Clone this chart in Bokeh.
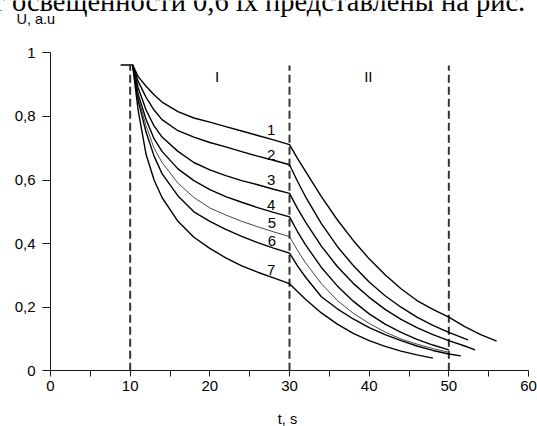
from bokeh.plotting import figure
from bokeh.models import FixedTicker, CustomJSTickFormatter, Range1d
from bokeh.core.properties import value
from bokeh.embed import file_html
from bokeh.resources import INLINE

# ---- data ----
t_start = [8.8, 10.3]
u_start = [0.962, 0.962]

t_c1 = [10.3, 11, 12, 13, 14, 16, 18, 20, 22, 24, 26, 28, 30, 31, 32, 34, 36, 38, 40, 42, 44, 46, 48, 50, 52, 54, 56]
u_c1 = [0.962, 0.925, 0.895, 0.868, 0.845, 0.815, 0.795, 0.782, 0.768, 0.754, 0.740, 0.726, 0.711,
        0.668, 0.628, 0.548, 0.475, 0.410, 0.352, 0.302, 0.258, 0.221, 0.193, 0.169, 0.139, 0.114, 0.093]

t_c2 = [10.3, 11, 12, 13, 14, 16, 18, 20, 22, 24, 26, 28, 30, 31, 32, 34, 36, 38, 40, 42, 44, 46, 48, 50, 52.4]
u_c2 = [0.962, 0.91, 0.86, 0.82, 0.79, 0.755, 0.735, 0.718, 0.704, 0.689, 0.675, 0.662, 0.648,
        0.596, 0.548, 0.463, 0.391, 0.331, 0.279, 0.236, 0.200, 0.169, 0.143, 0.121, 0.097]

t_c3 = [10.3, 11, 12, 13, 14, 16, 18, 20, 22, 24, 26, 28, 30, 31, 32, 34, 36, 38, 40, 42, 44, 46, 48, 50, 52, 53.3]
u_c3 = [0.962, 0.89, 0.82, 0.77, 0.735, 0.69, 0.655, 0.632, 0.614, 0.598, 0.585, 0.571, 0.558,
        0.511, 0.468, 0.392, 0.328, 0.275, 0.231, 0.193, 0.162, 0.136, 0.114, 0.095, 0.078, 0.066]

t_c4 = [10.3, 11, 12, 13, 14, 16, 18, 20, 22, 24, 26, 28, 30, 31, 32, 34, 36, 38, 40, 42, 44, 46, 48, 50]
u_c4 = [0.962, 0.87, 0.79, 0.73, 0.69, 0.635, 0.598, 0.570, 0.548, 0.530, 0.513, 0.498, 0.484,
        0.438, 0.397, 0.325, 0.267, 0.219, 0.179, 0.147, 0.121, 0.099, 0.081, 0.066]

t_c5 = [10.3, 11, 12, 13, 14, 16, 18, 20, 22, 24, 26, 28, 30, 31, 32, 34, 36, 38, 40, 42, 44, 46, 48, 50]
u_c5 = [0.962, 0.86, 0.77, 0.70, 0.655, 0.59, 0.545, 0.512, 0.490, 0.470, 0.453, 0.437, 0.422,
        0.379, 0.340, 0.274, 0.221, 0.181, 0.149, 0.122, 0.100, 0.084, 0.070, 0.058]

t_c6 = [10.3, 11, 12, 13, 14, 16, 18, 20, 22, 24, 26, 28, 30, 31, 32, 34, 36, 38, 40, 42, 44, 46, 48, 50, 51.5]
u_c6 = [0.962, 0.85, 0.75, 0.675, 0.62, 0.55, 0.50, 0.47, 0.445, 0.423, 0.403, 0.386, 0.370,
        0.330, 0.295, 0.233, 0.195, 0.163, 0.136, 0.114, 0.095, 0.078, 0.064, 0.053, 0.047]

t_c7 = [10.3, 11, 12, 13, 14, 16, 18, 20, 22, 24, 26, 28, 30, 31, 32, 34, 36, 38, 40, 42, 44, 46, 48]
u_c7 = [0.962, 0.82, 0.68, 0.60, 0.545, 0.47, 0.42, 0.385, 0.355, 0.330, 0.310, 0.292, 0.274,
        0.249, 0.225, 0.182, 0.147, 0.118, 0.095, 0.077, 0.062, 0.050, 0.040]

dash_t = [10, 30, 50]
dash_bottom = [0, 0, 0]
dash_top = [0.96, 0.96, 0.96]

curve_labels = ["1", "2", "3", "4", "5", "6", "7"]
label_t = [27.7, 27.7, 27.7, 27.7, 27.8, 27.8, 27.7]
label_u = [0.758, 0.679, 0.601, 0.522, 0.464, 0.408, 0.318]

region_labels = ["I", "II"]
region_t = [20.9, 39.9]
region_u = [0.925, 0.925]

x_ticks = [0, 10, 20, 30, 40, 50, 60]
x_minor = [5, 15, 25, 35, 45, 55]
y_ticks = [0, 0.2, 0.4, 0.6, 0.8, 1.0]

x_title = "t, s"
y_title = "U, a.u"
page_text = "от освещенности 0,6 lx представлены на рис."

# ---- geometry (pixels) ----
W, H = 537, 426
X0_PX, X60_PX = 50.0, 528.0      # pixel of t=0 and t=60
Y0_PX, Y1_PX = 370.3, 52.3       # pixel of U=0 and U=1
sx = (X60_PX - X0_PX) / 60.0
sy = (Y0_PX - Y1_PX) / 1.0


def tx(px):
    return (px - X0_PX) / sx


def uy(py):
    return (Y0_PX - py) / sy


p = figure(width=W, height=H, x_range=Range1d(tx(0), tx(W)), y_range=Range1d(uy(H), uy(0)),
           output_backend="svg", toolbar_location=None,
           min_border_left=0, min_border_right=0, min_border_top=0, min_border_bottom=0)
p.outline_line_color = None
p.grid.visible = False
p.background_fill_color = "white"
p.border_fill_color = "white"

ink = "#1a1a1a"
for ax in [p.xaxis[0], p.yaxis[0]]:
    ax.fixed_location = 0
    ax.axis_line_color = ink
    ax.axis_line_width = 1
    ax.major_tick_line_color = ink
    ax.minor_tick_line_color = ink
    ax.major_label_text_font = "Liberation Sans"
    ax.major_label_text_font_size = "15px"
    ax.major_label_text_color = "black"
    ax.major_tick_in = 0

p.xaxis.bounds = (0, 60)
p.yaxis.bounds = (0, 1)
p.xaxis.ticker = FixedTicker(ticks=x_ticks, minor_ticks=x_minor)
p.xaxis.major_tick_out = 6
p.xaxis.minor_tick_out = 6
p.xaxis.minor_tick_in = 0
p.xaxis.major_label_standoff = 4

p.yaxis.ticker = FixedTicker(ticks=y_ticks)
p.yaxis.major_tick_out = 8
p.yaxis.minor_tick_line_color = None
p.yaxis.major_label_standoff = 7
fmt = CustomJSTickFormatter(code="return (Math.round(tick*10)/10).toString().replace('.', ',');")
p.yaxis.formatter = fmt
p.xaxis.formatter = fmt

# dashed boundaries
p.segment(x0=dash_t, y0=dash_bottom, x1=dash_t, y1=dash_top,
          line_color="#333333", line_width=2, line_dash="8 4")

# curves
p.line(t_start, u_start, line_color="black", line_width=1.5)
for tt, uu, w, c in [(t_c1, u_c1, 1.4, "black"), (t_c2, u_c2, 1.4, "black"),
                     (t_c3, u_c3, 1.4, "black"), (t_c4, u_c4, 1.4, "black"),
                     (t_c5, u_c5, 0.9, "#333333"), (t_c6, u_c6, 1.4, "black"),
                     (t_c7, u_c7, 1.4, "black")]:
    p.line(tt, uu, line_color=c, line_width=w)

p.text(x=label_t, y=label_u, text=curve_labels, text_font=value("Liberation Sans"),
       text_font_size="15px", text_align="center", text_baseline="middle", text_color="black")
p.text(x=region_t, y=region_u, text=region_labels, text_font=value("Liberation Sans"),
       text_font_size="15px", text_align="center", text_baseline="middle", text_color="black")

# axis titles and page text
p.text(x=[tx(16)], y=[uy(18.3)], text=[y_title], text_font=value("Liberation Sans"),
       text_font_size="14.5px", text_align="left", text_baseline="middle", text_color="black")
p.text(x=[tx(287)], y=[uy(418)], text=[x_title], text_font=value("Liberation Sans"),
       text_font_size="14.5px", text_align="center", text_baseline="middle", text_color="black")
p.text(x=[tx(-22)], y=[uy(1)], text=[page_text], text_font=value("Liberation Serif"),
       text_font_size="28.5px", text_align="left", text_baseline="middle", text_color="black")

open("out.html", "w").write(file_html(p, INLINE))
